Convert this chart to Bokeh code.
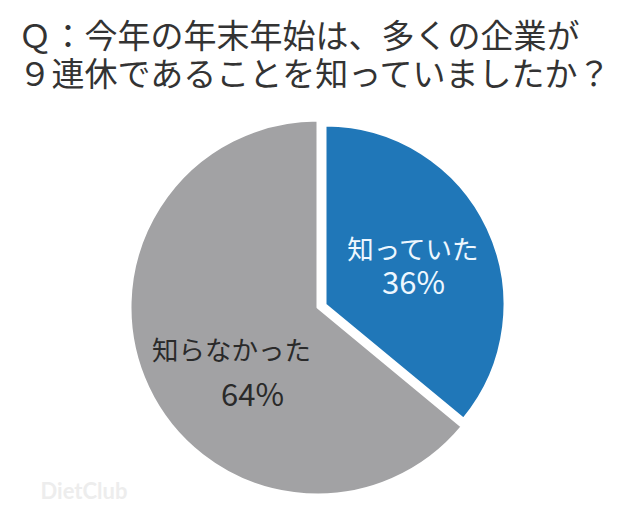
import math
from bokeh.plotting import figure
from bokeh.models import Range1d, ColumnDataSource
from bokeh.embed import file_html
from bokeh.resources import INLINE
from bokeh.core.properties import value

# ---- data ----
title_lines = ["Ｑ：今年の年末年始は、多くの企業が", "９連休であることを知っていましたか？"]
categories = ["知っていた", "知らなかった"]
percent = [36, 64]
percent_labels = ["36%", "64%"]
colors = ["#2077b8", "#a2a2a4"]
label_colors = ["#eef7ff", "#2a2a2a"]

FONT = "Noto Sans CJK JP"
W, H = 632, 503
SH = 511  # screen height used to map screen y -> data y


def sy(y):
    return SH - y


p = figure(width=W, height=H, x_range=Range1d(0, W), y_range=Range1d(SH - H, SH),
           output_backend="svg", toolbar_location=None, min_border=0)
p.axis.visible = False
p.grid.visible = False
p.outline_line_color = None
p.background_fill_color = "white"
p.border_fill_color = "white"

# pie geometry (screen px): blue slice exploded slightly
centers = [(325, 304), (317, 307)]
radii = [179, 187]
label_pos = [[(413, 247), (413, 280)], [(231, 348), (252, 392)]]

start = math.pi / 2
starts, ends = [], []
for v in percent:
    end = start - 2 * math.pi * v / sum(percent)
    starts.append(start)
    ends.append(end)
    start = end

src = ColumnDataSource(dict(
    x=[c[0] for c in centers], y=[sy(c[1]) for c in centers], r=radii,
    s=starts, e=ends, color=colors, cat=categories))
p.wedge(x="x", y="y", radius="r", start_angle="s", end_angle="e", direction="clock",
        fill_color="color", line_color="white", line_width=2, source=src)

# labels
for i, cat in enumerate(categories):
    (x1, y1), (x2, y2) = label_pos[i]
    p.text(x=[x1], y=[sy(y1)], text=[cat], text_font=value(FONT), text_font_size="26.5px",
           text_color=label_colors[i], text_align="center", text_baseline="middle")
    p.text(x=[x2], y=[sy(y2)], text=[percent_labels[i]], text_font=value(FONT),
           text_font_size="31px", text_color=label_colors[i], text_align="center",
           text_baseline="middle")

# title
p.text(x=[18, 18], y=[sy(33.5), sy(71.5)], text=title_lines, text_font=value(FONT),
       text_font_size="33px", text_color="#333333", text_align="left",
       text_baseline="middle")

# watermark
p.text(x=[40], y=[sy(490)], text=["DietClub"], text_font=value("Lato"),
       text_font_size="22px", text_font_style="bold", text_color="#ededed",
       text_align="left", text_baseline="middle")

open("out.html", "w").write(file_html(p, INLINE))
